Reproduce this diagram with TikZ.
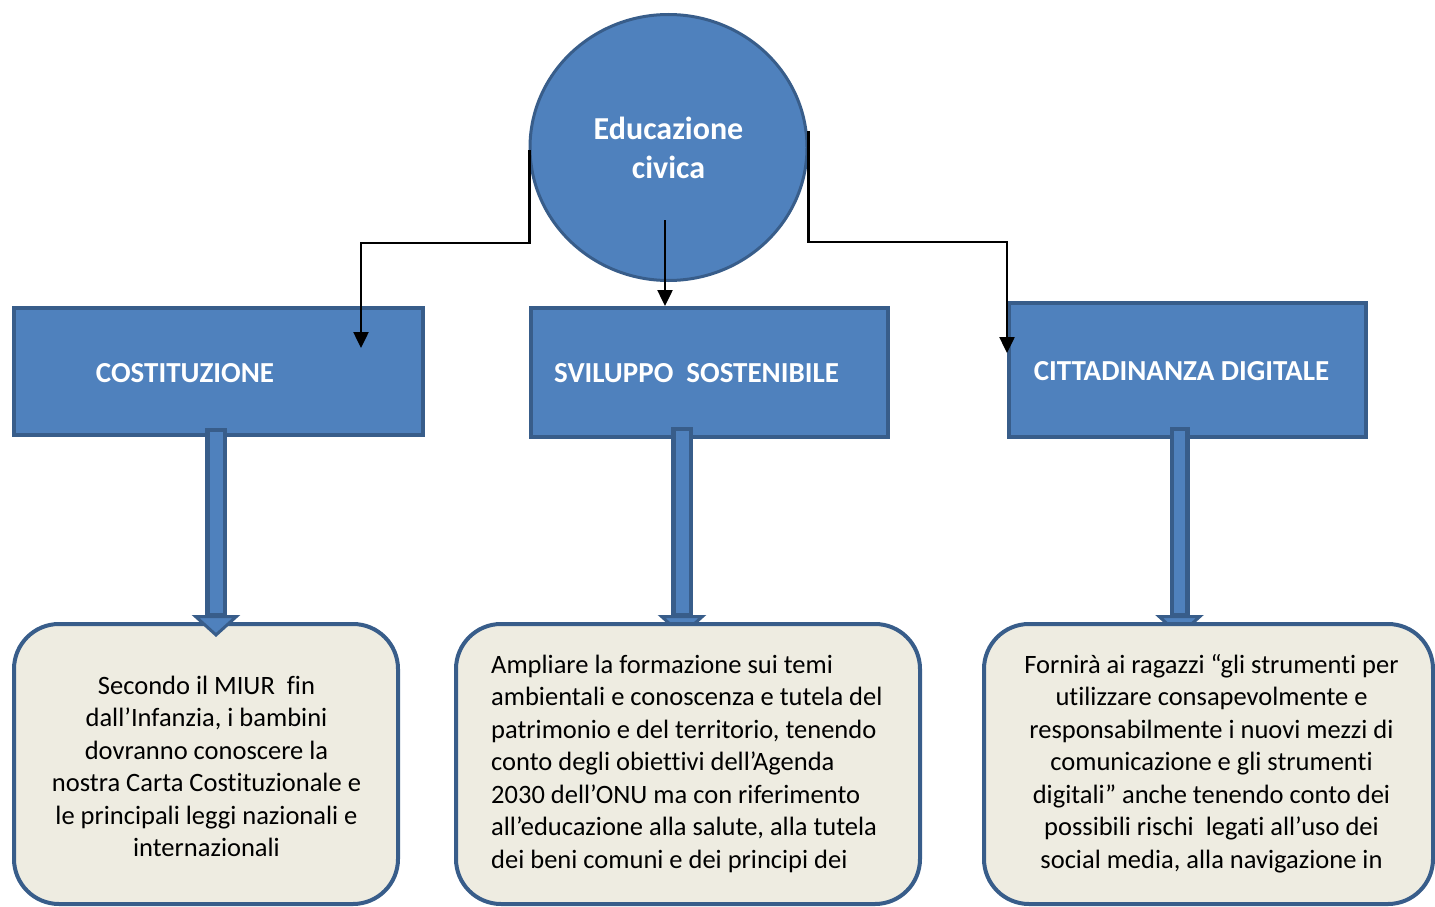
\documentclass[tikz,border=0pt]{standalone}
\usepackage{fontspec}
\setmainfont{Carlito}[Ligatures=NoCommon]
\usetikzlibrary{arrows.meta,shapes.geometric}
\definecolor{boxblue}{HTML}{4F81BD}
\definecolor{edgeblue}{HTML}{385D8A}
\definecolor{paper}{HTML}{EEECE1}
\tikzset{
  topic/.style={draw=edgeblue, line width=4pt, fill=boxblue, inner sep=0pt},
  topictext/.style={text=white, inner sep=0pt, align=center, font=\fontsize{29}{39}\selectfont\bfseries},
  note/.style={draw=edgeblue, line width=4pt, fill=paper, rounded corners=45pt, inner sep=0pt},
  notetext/.style={inner sep=0pt, font=\fontsize{26.5}{32.5}\selectfont},
  link/.style={line width=2.5pt, -{Triangle[width=15pt,length=16pt]}},
  fatshaft/.style={line width=22pt, draw=edgeblue, -{Triangle[width=48pt,length=22pt,line width=3pt,fill=boxblue]}},
  fatcore/.style={line width=13pt, draw=boxblue},
}
\begin{document}
\begin{tikzpicture}[x=1pt,y=-1pt]
\useasboundingbox (0,0) rectangle (1435,907);

\node[ellipse, draw=edgeblue, line width=3pt, fill=boxblue, minimum width=277pt, minimum height=266pt, inner sep=0pt] (edu) at (668.5,147.5) {};

\node[topic, minimum width=409pt, minimum height=127pt] (cost) at (218.5,371.5) {};
\node[topic, minimum width=357pt, minimum height=129pt] (svil) at (709.5,372.5) {};
\node[topic, minimum width=357pt, minimum height=134pt] (citt) at (1187.5,370) {};

\coordinate (costout) at (529.5,150);
\coordinate (costbend) at (361,243);
\coordinate (costin) at (361,348);
\coordinate (svilout) at (665,220);
\coordinate (cittout) at (808.5,131);
\coordinate (cittbend) at (1007,242);
\coordinate (cittin) at (1007,353);
\draw[link] (costout) |- (costbend) -- (costin);
\draw[link] (svilout) -- (svilout |- svil.north);
\draw[link] (cittout) |- (cittbend) -- (cittin);

\coordinate (sviltop) at (682,427);
\coordinate (svilend) at (682,637);
\coordinate (citttop) at (1179.5,427);
\coordinate (cittend) at (1179.5,637);
\draw[fatshaft] (sviltop) -- (svilend);
\draw[fatcore] ([yshift=-4pt]sviltop) -- ([yshift=2pt]svilend |- 0,615);
\draw[fatshaft, line width=20pt] (citttop) -- (cittend);
\draw[fatcore, line width=11pt] ([yshift=-4pt]citttop) -- ([yshift=2pt]cittend |- 0,615);

\node[note, minimum width=384pt, minimum height=280pt] (costnote) at (206,764) {};
\node[note, minimum width=464pt, minimum height=280pt] (svilnote) at (688,764) {};
\node[note, minimum width=449pt, minimum height=280pt] (cittnote) at (1208.5,764) {};

\coordinate (costtop) at (216,428);
\coordinate (costend) at (216,637);
\draw[fatshaft] (costtop) -- (costend);
\draw[fatcore] ([yshift=-4pt]costtop) -- ([yshift=2pt]costend |- 0,615);

\node[topictext, font=\fontsize{32}{39}\selectfont\bfseries] (edutext) at (668.5,148) {Educazione\\civica};
\node[topictext] (costtext) at (185,373) {COSTITUZIONE};
\node[topictext] (sviltext) at (696.5,373) {SVILUPPO\ \ SOSTENIBILE};
\node[topictext] (citttext) at (1181.5,371) {CITTADINANZA DIGITALE};

\node[notetext, align=center] (costbody) at (206.5,766.5) {Secondo il MIUR\ \ fin\\dall’Infanzia, i bambini\\dovranno conoscere la\\nostra Carta Costituzionale e\\le principali leggi nazionali e\\internazionali};
\node[notetext, align=left, anchor=west] (svilbody) at (491,763.5) {Ampliare la formazione sui temi\\ambientali e conoscenza e tutela del\\patrimonio e del territorio, tenendo\\conto degli obiettivi dell’Agenda\\2030 dell’ONU ma con riferimento\\all’educazione alla salute, alla tutela\\dei beni comuni e dei principi dei};
\node[notetext, align=center] (cittbody) at (1211.5,763.5) {Fornirà ai ragazzi “gli strumenti per\\utilizzare consapevolmente e\\responsabilmente i nuovi mezzi di\\comunicazione e gli strumenti\\digitali” anche tenendo conto dei\\possibili rischi\ \ legati all’uso dei\\social media, alla navigazione in};
\end{tikzpicture}
\end{document}
